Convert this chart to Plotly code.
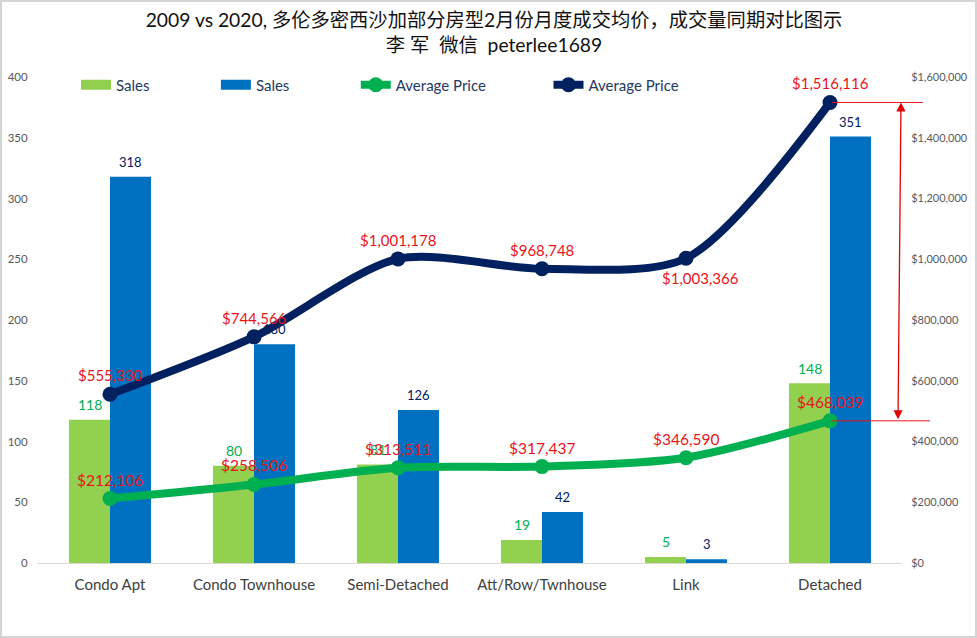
import plotly.graph_objects as go

categories = ["Condo Apt", "Condo Townhouse", "Semi-Detached", "Att/Row/Twnhouse", "Link", "Detached"]
sales_2009 = [118, 80, 81, 19, 5, 148]
sales_2020 = [318, 180, 126, 42, 3, 351]
price_2009 = [212106, 258506, 313511, 317437, 346590, 468039]
price_2020 = [555330, 744566, 1001178, 968748, 1003366, 1516116]

left_ticks = [0, 50, 100, 150, 200, 250, 300, 350, 400]
right_ticks = [0, 200000, 400000, 600000, 800000, 1000000, 1200000, 1400000, 1600000]

W, H = 977, 638
L, R, T, B = 38, 75, 77, 75
FONT = "Lato, 'Noto Sans', 'Noto Sans CJK SC', sans-serif"
RED = "#E8141C"
GREEN_BAR = "#92D050"
BLUE_BAR = "#0070C0"
GREEN_LINE = "#00B050"
NAVY = "#002060"


def px(x):
    # pixel -> paper coords
    return (x - L) / (W - L - R)


def py(y):
    return (H - B - y) / (H - T - B)


fig = go.Figure()

fig.add_trace(go.Bar(x=categories, y=sales_2009, marker_color=GREEN_BAR, marker_line_width=0, showlegend=False))
fig.add_trace(go.Bar(x=categories, y=sales_2020, marker_color=BLUE_BAR, marker_line_width=0, showlegend=False))
fig.add_trace(go.Scatter(x=categories, y=price_2009, yaxis="y2", showlegend=False,
                         mode="lines+markers", line=dict(color=GREEN_LINE, width=8, shape="spline", smoothing=0.8),
                         marker=dict(size=15, color=GREEN_LINE), cliponaxis=False))
fig.add_trace(go.Scatter(x=categories, y=price_2020, yaxis="y2", showlegend=False,
                         mode="lines+markers", line=dict(color=NAVY, width=8, shape="spline", smoothing=0.8),
                         marker=dict(size=15, color=NAVY), cliponaxis=False))

# legend only entries, bar swatches in the original are wide blocks
fig.add_trace(go.Scatter(x=[None], y=[None], name="Sales" + "\u00a0" * 16, mode="lines",
                         line=dict(color=GREEN_BAR, width=10)))
fig.add_trace(go.Scatter(x=[None], y=[None], name="Sales" + "\u00a0" * 16, mode="lines",
                         line=dict(color=BLUE_BAR, width=10)))
fig.add_trace(go.Scatter(x=[None], y=[None], name="Average Price" + "\u00a0" * 15, mode="lines+markers",
                         line=dict(color=GREEN_LINE, width=8), marker=dict(size=15, color=GREEN_LINE)))
fig.add_trace(go.Scatter(x=[None], y=[None], name="Average Price", mode="lines+markers",
                         line=dict(color=NAVY, width=8), marker=dict(size=15, color=NAVY)))

# bar labels
for i, v in enumerate(sales_2009):
    fig.add_annotation(x=categories[i], y=v, text=str(v), showarrow=False, xshift=-20.5, yshift=15,
                       font=dict(color=GREEN_LINE, size=14))
for i, v in enumerate(sales_2020):
    fig.add_annotation(x=categories[i], y=v, text=str(v), showarrow=False, xshift=20.5, yshift=15,
                       font=dict(color=NAVY, size=13))

# red price labels, shifted like the hand placed ones in the original
for i, v in enumerate(price_2009):
    fig.add_annotation(x=categories[i], y=v, yref="y2", text=f"${v:,.0f}", showarrow=False,
                       yshift=19, font=dict(color=RED, size=15.5))
for i, v in enumerate(price_2020):
    up = -20 if i == 4 else 19
    fig.add_annotation(x=categories[i], y=v, yref="y2", text=f"${v:,.0f}", showarrow=False,
                       xshift=14 if i == 4 else 0, yshift=up, font=dict(color=RED, size=15))

# gap marker on the right
for v, x_end in [(price_2020[5], 923), (price_2009[5], 930)]:
    fig.add_shape(type="line", xref="paper", yref="y2", x0=px(832), x1=px(x_end), y0=v, y1=v,
                  line=dict(color=RED, width=1))
fig.add_annotation(xref="paper", yref="y2", x=px(901), y=price_2020[5], axref="pixel", ayref="y2",
                   ax=-3, ay=price_2009[5], text="", showarrow=True, arrowhead=2, arrowside="end+start",
                   arrowsize=1.4, arrowwidth=1.3, arrowcolor="#E00000")

# frame round the pasted picture
fig.add_shape(type="rect", xref="paper", yref="paper", x0=px(1), x1=px(W - 1), y0=py(H - 1), y1=py(1),
              line=dict(color="#D4D4D4", width=2), layer="below")

fig.update_layout(
    width=W, height=H, margin=dict(l=L, r=R, t=T, b=B),
    paper_bgcolor="white", plot_bgcolor="white",
    font=dict(family=FONT),
    barmode="group", bargap=0.43, bargroupgap=0,
    title=dict(text="2009 vs 2020, 多伦多密西沙加部分房型2月份月度成交均价，成交量同期对比图示<br>李 军  微信  peterlee1689",
               x=494 / W, xanchor="center", y=1 - 27 / H, yanchor="middle",
               font=dict(size=19.3, color="#111111")),
    showlegend=True,
    legend=dict(orientation="h", x=px(76), xanchor="left", y=py(85), yanchor="middle",
                font=dict(size=15, color="#1F3864"), bgcolor="rgba(0,0,0,0)", itemwidth=30),
    xaxis=dict(categoryorder="array", categoryarray=categories, showline=True, linecolor="#D9D9D9",
               linewidth=1, showgrid=False, ticks="outside", ticklen=8, tickcolor="rgba(0,0,0,0)",
               automargin=False, tickfont=dict(size=15, color="#404040")),
    yaxis=dict(range=[0, 400], tickvals=left_ticks, showgrid=False, zeroline=False, showline=False,
               ticks="outside", ticklen=7, tickcolor="rgba(0,0,0,0)", automargin=False,
               tickfont=dict(size=11.5, color="#595959")),
    yaxis2=dict(range=[0, 1600000], tickvals=right_ticks, tickformat="$,.0f", overlaying="y", side="right",
                showgrid=False, zeroline=False, showline=False, ticks="outside", ticklen=6,
                tickcolor="rgba(0,0,0,0)", automargin=False, tickfont=dict(size=11, color="#595959")),
)

# drop the default page margin so the figure fills the window
fig.write_html("out.html", config=dict(displayModeBar=False),
               post_script="document.body.style.margin='0';")
